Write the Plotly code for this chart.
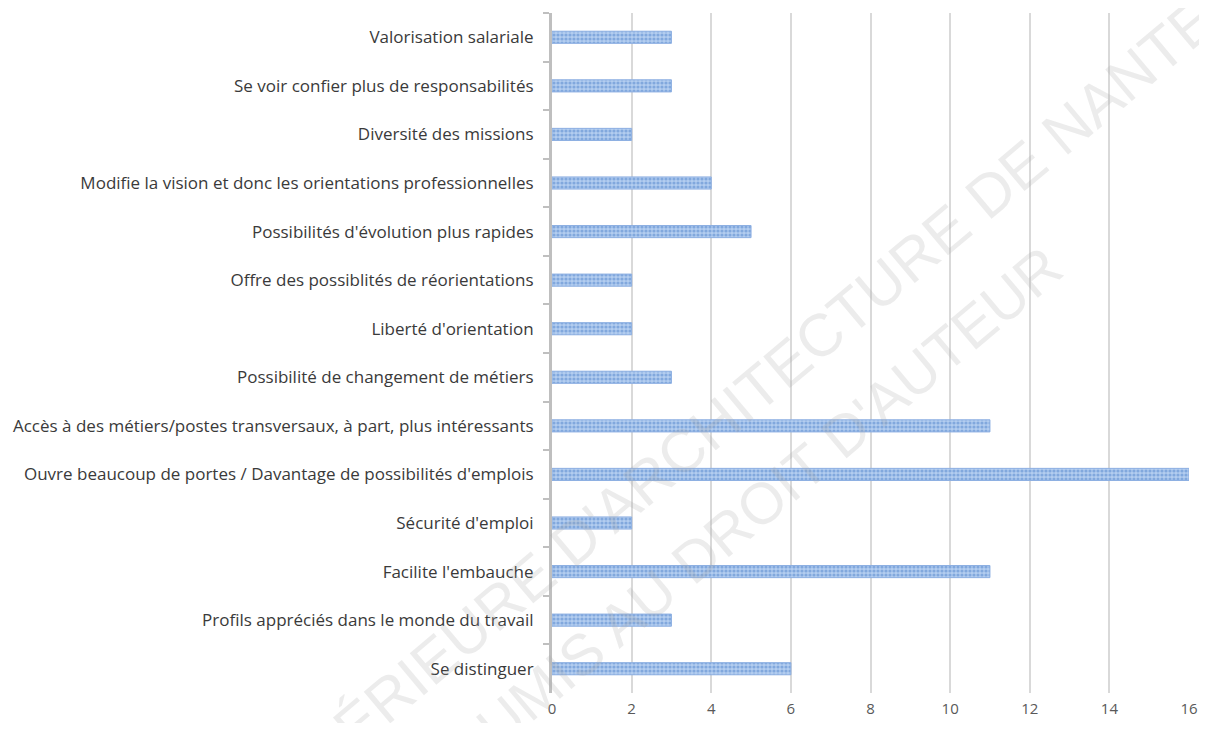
import plotly.graph_objects as go

# Data (top to bottom as in the chart)
categories = [
    "Valorisation salariale",
    "Se voir confier plus de responsabilités",
    "Diversité des missions",
    "Modifie la vision et donc les orientations professionnelles",
    "Possibilités d'évolution plus rapides",
    "Offre des possiblités de réorientations",
    "Liberté d'orientation",
    "Possibilité de changement de métiers",
    "Accès à des métiers/postes transversaux, à part, plus intéressants",
    "Ouvre beaucoup de portes / Davantage de possibilités d'emplois",
    "Sécurité d'emploi",
    "Facilite l'embauche",
    "Profils appréciés dans le monde du travail",
    "Se distinguer",
]
counts = [3, 3, 2, 4, 5, 2, 2, 3, 11, 16, 2, 11, 3, 6]
x_ticks = [0, 2, 4, 6, 8, 10, 12, 14, 16]

fig = go.Figure(
    go.Bar(
        x=counts,
        y=categories,
        orientation="h",
        marker=dict(
            color="#a9c5ec",
            line=dict(color="#8eb0e2", width=1),
            pattern=dict(
                shape=".",
                fgcolor="#4f83cc",
                bgcolor="#b3cdef",
                size=4,
                solidity=0.5,
            ),
        ),
        hoverinfo="x+y",
    )
)

# the page body adds an 8px margin, so the figure is a bit smaller than the window
fig.update_layout(
    width=1191,
    height=715,
    margin=dict(l=544, r=10, t=5, b=30),
    paper_bgcolor="white",
    plot_bgcolor="white",
    bargap=0.75,
    showlegend=False,
    font=dict(family="Open Sans, sans-serif", color="#404040"),
    xaxis=dict(
        range=[0, 16],
        tickvals=x_ticks,
        showgrid=True,
        gridcolor="#d9d9d9",
        gridwidth=2,
        zeroline=False,
        showline=False,
        automargin=False,
        ticklabelstandoff=5,
        tickfont=dict(size=15, color="#595959"),
        fixedrange=True,
    ),
    yaxis=dict(
        autorange="reversed",
        showline=True,
        linecolor="#bfbfbf",
        linewidth=3,
        ticks="outside",
        tickson="boundaries",
        ticklen=6,
        tickcolor="#bfbfbf",
        tickwidth=2,
        showgrid=False,
        automargin=False,
        ticklabelstandoff=12,
        tickfont=dict(size=17, color="#3a3a3a"),
    ),
)

# Faint diagonal watermark
fig.add_annotation(
    text="SUPÉRIEURE D'ARCHITECTURE DE NANTES",
    x=0.30, y=0.43, xref="paper", yref="paper",
    xanchor="center", yanchor="middle",
    textangle=-40, showarrow=False,
    font=dict(size=60, color="rgba(170,170,170,0.22)", family="Liberation Sans"),
)
fig.add_annotation(
    text="SOUMIS AU DROIT D'AUTEUR",
    x=0.29, y=0.25, xref="paper", yref="paper",
    xanchor="center", yanchor="middle",
    textangle=-40, showarrow=False,
    font=dict(size=58, color="rgba(170,170,170,0.22)", family="Liberation Sans"),
)

fig.write_html("out.html")
